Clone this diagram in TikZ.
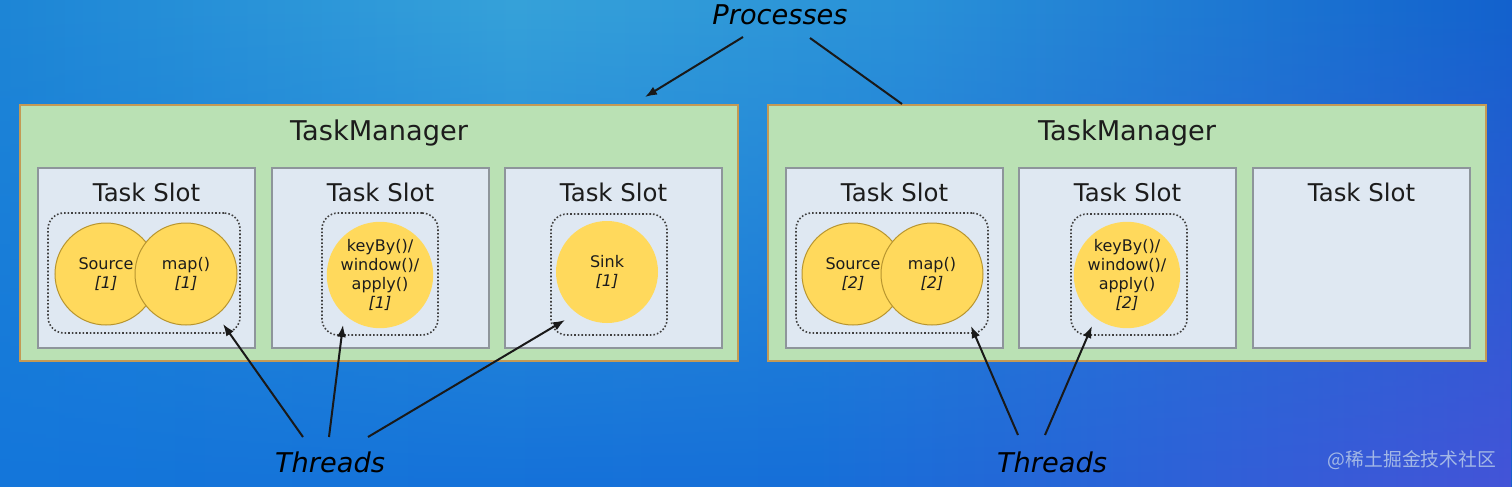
\documentclass[tikz,border=0pt]{standalone}
\usepackage{fontspec}
\setmainfont{DejaVu Sans}
\newfontfamily\cjk{Noto Sans CJK SC}
\usetikzlibrary{fit,fadings,arrows.meta}
\definecolor{ta}{HTML}{1E86D6}
\definecolor{tb}{HTML}{36A2DA}
\definecolor{tc}{HTML}{2A92D8}
\definecolor{td}{HTML}{1262CD}
\definecolor{ba}{HTML}{1476DB}
\definecolor{bb}{HTML}{166FD8}
\definecolor{bc}{HTML}{4454D8}
\pgfdeclarehorizontalshading{bgtopsh}{100bp}{color(0bp)=(ta); color(25bp)=(ta); color(42bp)=(tb); color(55bp)=(tc); color(75bp)=(td); color(100bp)=(td)}
\pgfdeclarehorizontalshading{bgbotsh}{100bp}{color(0bp)=(ba); color(25bp)=(ba); color(52bp)=(bb); color(75bp)=(bc); color(100bp)=(bc)}
\definecolor{tmfill}{HTML}{BAE1B4}
\definecolor{tmline}{HTML}{C49A55}
\definecolor{slotfill}{HTML}{DFE8F2}
\definecolor{slotline}{HTML}{8E959B}
\definecolor{opfill}{HTML}{FFD95C}
\definecolor{opline}{HTML}{B8952F}
\definecolor{txt}{HTML}{1C1C1C}
\definecolor{wm}{HTML}{A3B8E6}
\begin{document}
\begin{tikzpicture}[x=0.5pt,y=-0.5pt,
  tm/.style={draw=tmline, fill=tmfill, line width=1pt, inner sep=0pt},
  slot/.style={draw=slotline, fill=slotfill, line width=1pt, inner sep=0pt},
  grp/.style={draw=black!75, densely dotted, line width=0.8pt, rounded corners=8pt, inner sep=0pt},
  op/.style={circle, fill=opfill, minimum size=51pt, inner sep=0pt, align=center, text=txt,
    font=\fontsize{8}{9.6}\selectfont},
  opb/.style={op, draw=opline, line width=0.5pt},
  tmtitle/.style={text=txt, font=\fontsize{13.6}{16}\selectfont},
  slottitle/.style={text=txt, font=\fontsize{12.2}{14}\selectfont},
  lbl/.style={text=black, font=\fontsize{13.6}{16}\selectfont\itshape},
  arr/.style={draw=black!90, line width=1pt, -{Latex[length=6pt,width=4.5pt]}},
  ln/.style={draw=black!90, line width=1pt}
]
\useasboundingbox (0,0) rectangle (1512,487);
\shade[shading=bgtopsh] (0,0) rectangle (1512,487);
\shade[shading=bgbotsh, path fading=north] (0,0) rectangle (1512,487);

% TaskManagers
\node[tm, fit={(20,105)(738,361)}] (tm1) {};
\node[tm, fit={(768,105)(1486,361)}] (tm2) {};
\node[tmtitle] (tm1t) at (379,133) {TaskManager};
\node[tmtitle] (tm2t) at (1127,133) {TaskManager};

% Task slots
\node[slot, fit={(38,168)(255,348)}] (s11) {};
\node[slot, fit={(272,168)(489,348)}] (s12) {};
\node[slot, fit={(505,168)(722,348)}] (s13) {};
\node[slot, fit={(786,168)(1003,348)}] (s21) {};
\node[slot, fit={(1019,168)(1236,348)}] (s22) {};
\node[slot, fit={(1253,168)(1470,348)}] (s23) {};
\node[slottitle] (s11t) at (146.5,192) {Task Slot};
\node[slottitle] (s12t) at (380.5,192) {Task Slot};
\node[slottitle] (s13t) at (613.5,192) {Task Slot};
\node[slottitle] (s21t) at (894.5,192) {Task Slot};
\node[slottitle] (s22t) at (1127.5,192) {Task Slot};
\node[slottitle] (s23t) at (1361.5,192) {Task Slot};

% dotted thread groups
\node[grp, fit={(48,213)(240,333)}] (g11) {};
\node[grp, fit={(322,213)(438,335)}] (g12) {};
\node[grp, fit={(551,214)(667,335)}] (g13) {};
\node[grp, fit={(796,213)(988,333)}] (g21) {};
\node[grp, fit={(1071,214)(1187,335)}] (g22) {};

% operators
\node[opb] (c11) at (106,274) {Source\\\textit{[1]}};
\node[opb] (c12) at (186,274) {map()\\\textit{[1]}};
\node[op] (c13) at (380,275) {keyBy()/\\window()/\\apply()\\\textit{[1]}};
\node[op] (c14) at (607,272) {Sink\\\textit{[1]}};
\node[opb] (c21) at (853,274) {Source\\\textit{[2]}};
\node[opb] (c22) at (932,274) {map()\\\textit{[2]}};
\node[op] (c23) at (1127,275) {keyBy()/\\window()/\\apply()\\\textit{[2]}};

% labels
\node[lbl] (proc) at (780,15) {Processes};
\node[lbl] (th1) at (330,462) {Threads};
\node[lbl] (th2) at (1052,462) {Threads};

% arrow endpoints
\coordinate (p1s) at (743,37);
\coordinate (p1e) at (645,97);
\coordinate (p2s) at (810,38);
\coordinate (p2e) at (902,104);
\coordinate (a1s) at (303,437);
\coordinate (a1e) at (223,324);
\coordinate (a2s) at (329,437);
\coordinate (a2e) at (343,325);
\coordinate (a3s) at (368,437);
\coordinate (a3e) at (565,320);
\coordinate (b1s) at (1018,435);
\coordinate (b1e) at (971,326);
\coordinate (b2s) at (1045,435);
\coordinate (b2e) at (1092,326);

\draw[arr] (p1s) -- (p1e);
\draw[ln] (p2s) -- (p2e);
\draw[arr] (a1s) -- (a1e);
\draw[arr] (a2s) -- (a2e);
\draw[arr] (a3s) -- (a3e);
\draw[arr] (b1s) -- (b1e);
\draw[arr] (b2s) -- (b2e);

% watermark text
\node[text=wm, font=\cjk\fontsize{9.4}{11}\selectfont] (wmk) at (1412,460) {@稀土掘金技术社区};
\end{tikzpicture}
\end{document}
